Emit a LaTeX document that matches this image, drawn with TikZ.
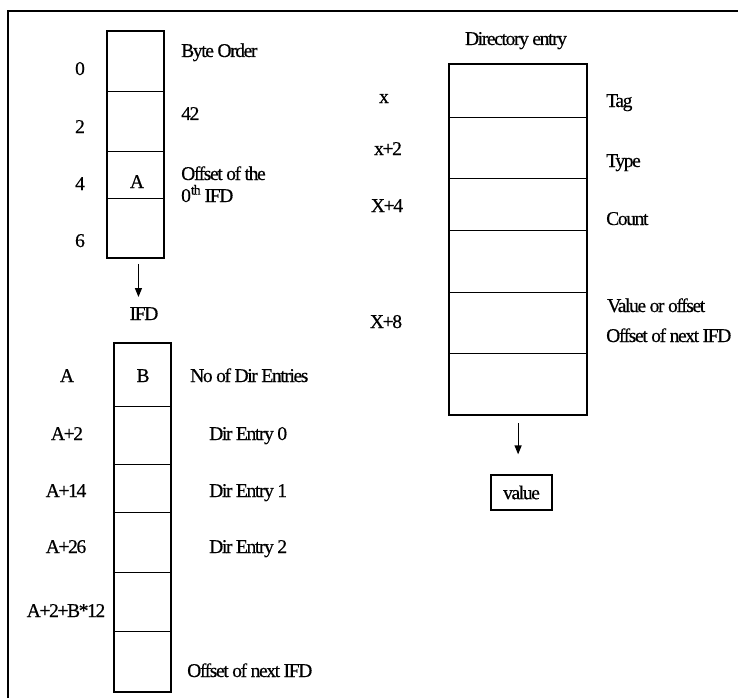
\documentclass[tikz,border=0pt]{standalone}
\usepackage{fontspec}
\setmainfont{Liberation Serif}[LetterSpace=-7, FakeBold=0.5]
\usetikzlibrary{arrows.meta}
\begin{document}
\begin{tikzpicture}[x=1pt,y=-1pt,
  every node/.style={font=\fontsize{19.5}{21}\selectfont},
  cellL/.style={draw, line width=0.9pt, inner sep=0pt, minimum width=56pt, anchor=north west},
  cellR/.style={draw, line width=1.2pt, inner sep=0pt, minimum width=137pt, anchor=north west},
  thickframe/.style={line width=2.6pt},
  medframe/.style={line width=1.6pt},
  txt/.style={inner sep=0pt, anchor=base west},
  ctxt/.style={inner sep=0pt, anchor=base},
  arr/.style={line width=1.2pt, -{Triangle[length=9pt,width=7pt]}}
]
\useasboundingbox (0,0) rectangle (738,698);
% outer frame (top and left)
\draw[line width=1.8pt] (8,698) -- (8,11) -- (738,11);

% ---------- header box ----------
\node[cellL, minimum height=60pt] (h0) at (107,31) {};
\node[cellL, minimum height=60pt] (h1) at (107,91) {};
\node[cellL, minimum height=47pt] (h2) at (107,151) {};
\node[cellL, minimum height=59pt] (h3) at (107,198) {};
\draw[thickframe] (h0.north west) rectangle (h3.south east);

\node[ctxt] (n0) at (80,75) {0};
\node[ctxt] (n2) at (80,133) {2};
\node[ctxt] (n4) at (80,190) {4};
\node[ctxt] (n6) at (80,247) {6};
\node[ctxt] (ha) at (137,188) {A};
\node[txt] (bo) at (181,57) {Byte Order};
\node[txt] (f42) at (181,120) {42};
\node[txt] (off1) at (181,180) {Offset of the};
\node[txt] (off2) at (181,202) {0\textsuperscript{th} IFD};

\node[ctxt] (ifd) at (144,320) {IFD};
\draw[arr, shorten <=6pt, shorten >=10pt] ([xshift=3pt]h3.south) -- ([xshift=3pt]h3.south |- ifd.north);

% ---------- IFD box ----------
\node[cellL, minimum height=63pt] (i0) at (114,343) {};
\node[cellL, minimum height=58pt] (i1) at (114,406) {};
\node[cellL, minimum height=48pt] (i2) at (114,464) {};
\node[cellL, minimum height=60pt] (i3) at (114,512) {};
\node[cellL, minimum height=59pt] (i4) at (114,572) {};
\node[cellL, minimum height=60pt] (i5) at (114,631) {};
\draw[thickframe] (i0.north west) rectangle (i5.south east);

\node[ctxt] (ib) at (143,382) {B};
\node[ctxt] (la) at (67,382) {A};
\node[ctxt] (la2) at (67,440) {A+2};
\node[ctxt] (la14) at (66,497) {A+14};
\node[ctxt] (la26) at (66,553) {A+26};
\node[ctxt] (lab) at (66,617) {A+2+B*12};
\node[txt] (nde) at (190,382) {No of Dir Entries};
\node[txt] (de0) at (209,440) {Dir Entry 0};
\node[txt] (de1) at (209,497) {Dir Entry 1};
\node[txt] (de2) at (209,553) {Dir Entry 2};
\node[txt] (oni) at (187,677) {Offset of next IFD};

% ---------- Directory entry box ----------
\node[ctxt] (dtitle) at (516,45) {Directory entry};
\node[cellR, minimum height=53pt] (d0) at (449,64) {};
\node[cellR, minimum height=61pt] (d1) at (449,117) {};
\node[cellR, minimum height=52pt] (d2) at (449,178) {};
\node[cellR, minimum height=62pt] (d3) at (449,230) {};
\node[cellR, minimum height=61pt] (d4) at (449,292) {};
\node[cellR, minimum height=61pt] (d5) at (449,353) {};
\draw[medframe] (d0.north west) rectangle (d5.south east);

\node[ctxt] (lx) at (384,103) {x};
\node[ctxt] (lx2) at (388,155) {x+2};
\node[ctxt] (lx4) at (387,212) {X+4};
\node[ctxt] (lx8) at (386,328) {X+8};
\node[txt] (tag) at (606,107) {Tag};
\node[txt] (typ) at (606,167) {Type};
\node[txt] (cnt) at (606,225) {Count};
\node[txt] (vo) at (607,312) {Value or offset};
\node[txt] (oni2) at (606,342) {Offset of next IFD};

\node[draw, line width=1.2pt, inner sep=0pt, minimum width=61pt, minimum height=35pt] (val) at (521.5,492.5) {value};
\draw[arr, shorten <=8pt, shorten >=20pt] (d5.south) -- (d5.south |- val.north);
\end{tikzpicture}
\end{document}
